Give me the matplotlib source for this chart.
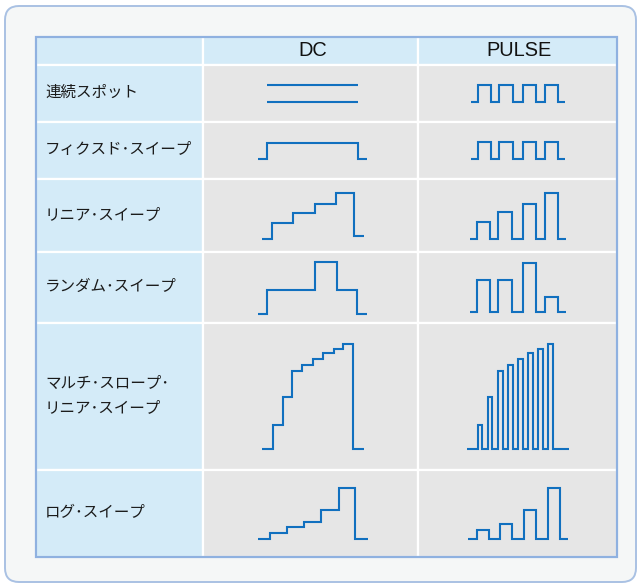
import matplotlib
matplotlib.use("Agg")
import matplotlib.pyplot as plt
from matplotlib.patches import FancyBboxPatch, Rectangle
import numpy as np

plt.rcParams['font.family'] = ['Noto Sans CJK JP', 'DejaVu Sans']

# table text
columns = ["DC", "PULSE"]
row_labels = [
    "連続スポット",
    "フィクスド・スイープ",
    "リニア・スイープ",
    "ランダム・スイープ",
    "マルチ・スロープ・\nリニア・スイープ",
    "ログ・スイープ",
]

# waveforms as step breakpoints: time and level (level held until next time)
spot_dc_t = [0, 91]
spot_dc_hi = [17, 17]
spot_dc_lo = [0, 0]
spot_pulse_t = [0, 7, 20, 28, 42, 52, 65, 74, 87, 94]
spot_pulse_v = [0, 17, 0, 17, 0, 17, 0, 17, 0, 0]

fixed_dc_t = [0, 9, 100, 109]
fixed_dc_v = [0, 16, 0, 0]
fixed_pulse_t = [0, 7, 20, 28, 42, 52, 65, 74, 87, 94]
fixed_pulse_v = [0, 17, 0, 17, 0, 17, 0, 17, 0, 0]

linear_dc_t = [0, 10, 31, 53, 74, 92, 102]
linear_dc_v = [0, 16, 26, 35, 46, 3, 3]
linear_pulse_t = [0, 7, 20, 28, 42, 53, 66, 75, 88, 96]
linear_pulse_v = [0, 17, 0, 27, 0, 35, 0, 46, 0, 0]

random_dc_t = [0, 9, 57, 79, 99, 109]
random_dc_v = [0, 24, 52, 24, 0, 0]
random_pulse_t = [0, 7, 20, 28, 42, 53, 66, 75, 88, 96]
random_pulse_v = [0, 32, 0, 32, 0, 49, 0, 15, 0, 0]

multi_dc_t = [0, 11, 21, 30, 40, 51, 61, 72, 81, 91, 102]
multi_dc_v = [0, 24, 52, 78, 84, 90, 96, 100, 105, 0, 0]
multi_pulse_t = [0, 11, 15, 21, 25, 31, 36, 41, 46, 51, 56, 61, 66,
                 71, 76, 81, 86, 102]
multi_pulse_v = [0, 24, 0, 52, 0, 78, 0, 84, 0, 90, 0, 96, 0,
                 100, 0, 105, 0, 0]

log_dc_t = [0, 12, 29, 46, 63, 81, 97, 110]
log_dc_v = [0, 6, 12, 17, 29, 51, 0, 0]
log_pulse_t = [0, 9, 21, 32, 44, 56, 68, 80, 92, 100]
log_pulse_v = [0, 9, 0, 15, 0, 29, 0, 51, 0, 0]

waveforms = [
    [[(spot_dc_t, spot_dc_hi), (spot_dc_t, spot_dc_lo)],
     [(spot_pulse_t, spot_pulse_v)]],
    [[(fixed_dc_t, fixed_dc_v)], [(fixed_pulse_t, fixed_pulse_v)]],
    [[(linear_dc_t, linear_dc_v)], [(linear_pulse_t, linear_pulse_v)]],
    [[(random_dc_t, random_dc_v)], [(random_pulse_t, random_pulse_v)]],
    [[(multi_dc_t, multi_dc_v)], [(multi_pulse_t, multi_pulse_v)]],
    [[(log_dc_t, log_dc_v)], [(log_pulse_t, log_pulse_v)]],
]

# layout in pixels
W, H = 640, 585
col_edges = [36, 203, 418, 617]
row_edges = [37, 65, 122, 179, 252, 323, 470, 557]

label_bg = "#d4ebf8"
cell_bg = "#e6e6e6"
wave_color = "#1170bf"

fig = plt.figure(figsize=(W / 100, H / 100), dpi=100)
fig.patch.set_facecolor("white")
ax = fig.add_axes([0, 0, 1, 1])
ax.set_xlim(0, W)
ax.set_ylim(H, 0)
ax.axis("off")

# outer rounded panel
ax.add_patch(FancyBboxPatch((5, 6), 631, 576,
                            boxstyle="round,pad=0,rounding_size=14",
                            facecolor="#f5f7f7", edgecolor="#a9c1e3",
                            linewidth=1.4))

# cells
n_rows = len(row_edges) - 1
for r in range(n_rows):
    for c in range(3):
        x0, x1 = col_edges[c], col_edges[c + 1]
        y0, y1 = row_edges[r], row_edges[r + 1]
        fc = label_bg if (r == 0 or c == 0) else cell_bg
        ax.add_patch(Rectangle((x0, y0), x1 - x0, y1 - y0, facecolor=fc,
                               edgecolor="white", linewidth=1.6))

# table border
ax.add_patch(Rectangle((col_edges[0], row_edges[0]),
                       col_edges[-1] - col_edges[0],
                       row_edges[-1] - row_edges[0],
                       facecolor="none", edgecolor="#8fb1e0", linewidth=1.6))

# header
for c, name in enumerate(columns):
    cx = (col_edges[c + 1] + col_edges[c + 2]) / 2 + 2
    cy = (row_edges[0] + row_edges[1]) / 2
    ax.text(cx, cy, name, ha="center", va="center", fontsize=14.4,
            color="#111111", family=["Liberation Sans", "DejaVu Sans"])

# row labels; the middle dot is set in its half-width form, as in the
# proportional type of the original
for r, label in enumerate(row_labels):
    cy = (row_edges[r + 1] + row_edges[r + 2]) / 2
    lines = label.replace("・", "\uff65").split("\n")
    for i, line in enumerate(lines):
        dy = (i - (len(lines) - 1) / 2) * 25
        ax.text(45, cy + dy - 1, line, ha="left", va="center",
                fontsize=11.2, color="#1a1a1a")

# waveforms
for r, row in enumerate(waveforms):
    for c, traces in enumerate(row):
        cx = (col_edges[c + 1] + col_edges[c + 2]) / 2 + (2 if c == 0 else 0)
        cy = (row_edges[r + 1] + row_edges[r + 2]) / 2
        tmax = max(max(t) for t, v in traces)
        vmax = max(max(v) for t, v in traces)
        x_start = cx - tmax / 2
        base = cy + vmax / 2
        for t, v in traces:
            ax.plot(x_start + np.array(t), base - np.array(v),
                    drawstyle="steps-post", color=wave_color, lw=1.5,
                    solid_joinstyle="miter", solid_capstyle="butt")

fig.savefig("out.png", dpi=100)
